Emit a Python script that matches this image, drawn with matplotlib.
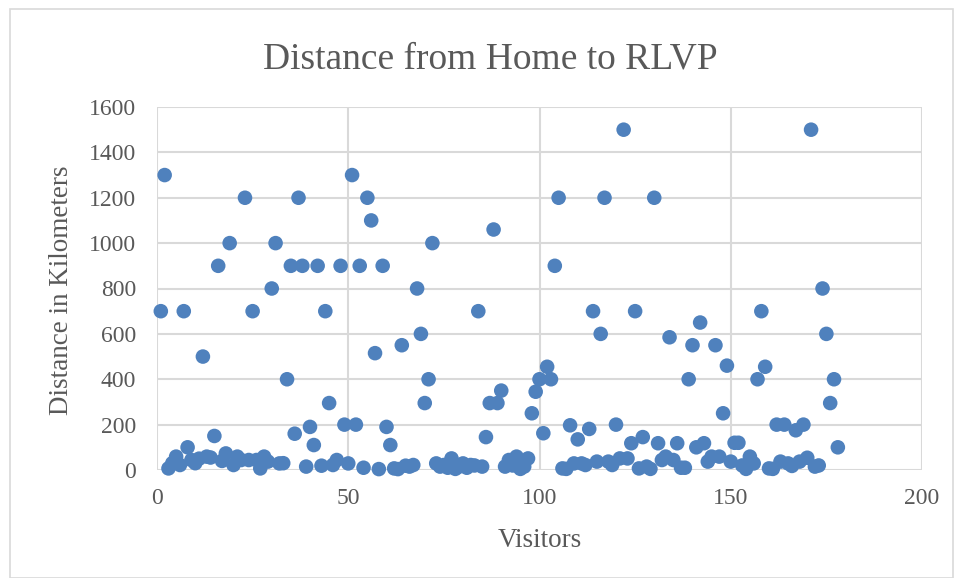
import matplotlib
matplotlib.use("Agg")
import matplotlib.pyplot as plt
from matplotlib.patches import Rectangle

# Visitor index and distance (km)
visitors = list(range(1, 179))
distance_km = [
    700, 1300, 7, 30, 59, 22, 700, 100, 44, 30,
    50, 500, 59, 55, 150, 900, 40, 73, 1000, 22,
    59, 44, 1200, 44, 700, 44, 7, 59, 37, 800,
    1000, 29, 30, 400, 900, 160, 1200, 900, 15, 190,
    110, 900, 19, 700, 295, 22, 44, 900, 200, 29,
    1300, 200, 900, 10, 1200, 1100, 515, 4, 900, 190,
    110, 7, 4, 550, 19, 15, 22, 800, 600, 295,
    400, 1000, 29, 15, 22, 10, 51, 5, 15, 29,
    10, 22, 20, 700, 15, 145, 295, 1060, 295, 350,
    15, 44, 20, 59, 5, 15, 51, 250, 345, 400,
    162, 455, 400, 900, 1200, 7, 5, 197, 29, 135,
    29, 22, 181, 700, 37, 600, 1200, 37, 22, 200,
    51, 1500, 51, 118, 700, 7, 145, 15, 5, 1200,
    118, 44, 59, 585, 44, 118, 10, 10, 400, 550,
    100, 650, 118, 37, 59, 550, 59, 250, 460, 37,
    120, 120, 20, 5, 59, 29, 400, 700, 455, 7,
    5, 200, 37, 200, 29, 18, 175, 37, 200, 54,
    1500, 15, 20, 800, 600, 295, 400, 100,
]

x_ticks = [0, 50, 100, 150, 200]
y_ticks = [0, 200, 400, 600, 800, 1000, 1200, 1400, 1600]

title = "Distance from Home to RLVP"
x_label = "Visitors"
y_label = "Distance in Kilometers"

W, H = 957, 578
fig = plt.figure(figsize=(W / 100, H / 100), dpi=100)
fig.patch.set_facecolor("white")

# chart border
fig.patches.append(Rectangle((10 / W, 0), (W - 14) / W, (H - 9) / H,
                             transform=fig.transFigure, fill=False,
                             edgecolor="#d9d9d9", linewidth=1.2))

ax = fig.add_axes([157 / W, (H - 470) / H, (922 - 157) / W, (470 - 107) / H])
serif = ["Liberation Serif", "DejaVu Serif"]
text_color = "#595959"

ax.scatter(visitors, distance_km, s=110, color="#4F81BD", edgecolors="none",
           zorder=3, clip_on=False)

ax.set_xlim(0, 200)
ax.set_ylim(0, 1600)
ax.set_xticks(x_ticks)
ax.set_yticks(y_ticks)
ax.grid(True, color="#d9d9d9", linewidth=1.5, zorder=0)
for s in ax.spines.values():
    s.set_visible(False)
ax.tick_params(length=0, colors=text_color, labelsize=17)
for lab in ax.get_xticklabels() + ax.get_yticklabels():
    lab.set_fontfamily(serif)
ax.tick_params(axis="y", pad=15)
ax.tick_params(axis="x", pad=13)

fig.text(540 / W, 1 - 547 / H, x_label, fontsize=19.5, color=text_color,
         family=serif, ha="center", va="baseline")
fig.text(62 / W, 1 - 290 / H, y_label, fontsize=19.5, color=text_color,
         family=serif, ha="center", va="center", rotation=90)
fig.text(490 / W, 1 - 69 / H, title, fontsize=27, color=text_color,
         family=serif, ha="center", va="baseline")

fig.savefig("out.png", dpi=100)
